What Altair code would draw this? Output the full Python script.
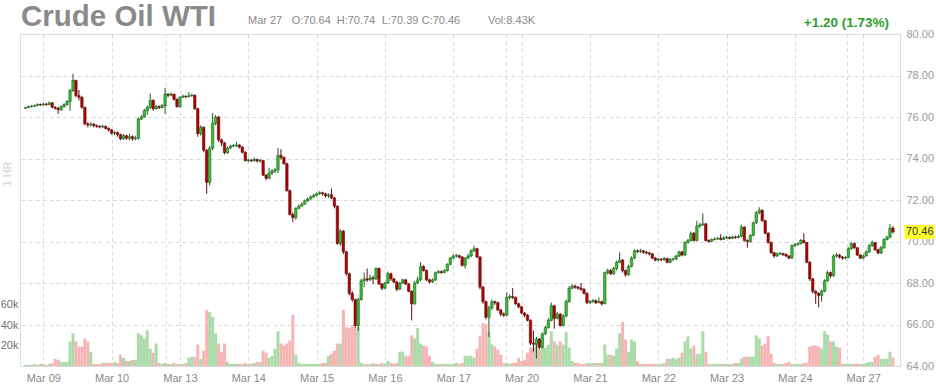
import altair as alt
import pandas as pd

# ---------------- data ----------------
day_labels = ["Mar 09", "Mar 10", "Mar 13", "Mar 14", "Mar 15", "Mar 16", "Mar 17",
              "Mar 20", "Mar 21", "Mar 22", "Mar 23", "Mar 24", "Mar 27"]
bars_per_day = 23
first_index = -6
week_breaks = [41.4, 155.9, 270.7]
price_ticks = [64, 66, 68, 70, 72, 74, 76, 78, 80]
volume_ticks = [20000, 40000, 60000]
first_open = 76.42

close_pre = [76.45, 76.50, 76.52, 76.55, 76.60, 76.58]
high_pre = [76.50, 76.55, 76.58, 76.60, 76.66, 76.65]
low_pre = [76.40, 76.43, 76.47, 76.49, 76.52, 76.53]
vol_pre = [1, 1, 1, 2, 1, 2]

close_0309 = [76.62, 76.60, 76.68, 76.47, 76.42, 76.35, 76.50, 76.60, 76.75, 77.28, 77.76, 77.03,
              76.95, 76.47, 75.67, 75.62, 75.66, 75.58, 75.55, 75.52, 75.55, 75.45, 75.38]
high_0309 = [76.70, 76.68, 76.74, 76.72, 76.52, 76.48, 76.56, 76.66, 76.82, 77.35, 78.08, 77.80,
             77.30, 77.00, 76.50, 75.75, 75.75, 75.70, 75.64, 75.60, 75.62, 75.58, 75.50]
low_0309 = [76.55, 76.54, 76.57, 76.42, 76.35, 76.15, 76.30, 76.45, 76.55, 76.30, 77.20, 76.95,
            76.80, 76.40, 75.60, 75.50, 75.55, 75.50, 75.48, 75.45, 75.47, 75.40, 75.30]
vol_0309 = [2, 1, 2, 3, 7, 6, 4, 4, 4, 24, 32, 24, 19, 19, 27, 24, 14, 2, 2, 2, 3, 3, 3]

close_0310 = [75.22, 75.25, 75.15, 74.95, 75.10, 74.98, 75.05, 74.95, 74.98, 75.90, 76.00, 76.30,
              76.45, 76.80, 76.40, 76.50, 76.45, 76.55, 77.10, 77.05, 77.10, 76.85, 76.50]
high_0310 = [75.42, 75.32, 75.30, 75.20, 75.18, 75.15, 75.20, 75.12, 75.10, 75.98, 76.10, 76.40,
             76.55, 77.13, 76.85, 76.58, 76.56, 76.62, 77.40, 77.15, 77.18, 77.12, 76.90]
low_0310 = [75.15, 75.12, 75.05, 74.88, 74.90, 74.90, 74.88, 74.85, 74.88, 74.90, 75.85, 75.95,
            76.10, 76.40, 76.30, 76.35, 76.38, 76.42, 76.15, 76.95, 77.00, 76.80, 76.45]
vol_0310 = [3, 4, 3, 11, 8, 5, 5, 6, 6, 32, 30, 27, 35, 17, 13, 22, 3, 2, 3, 2, 2, 3, 2]

close_0313 = [76.95, 77.00, 76.98, 77.02, 77.05, 76.40, 75.20, 75.50, 74.40, 72.85, 74.50, 75.70,
              76.00, 74.90, 74.75, 74.28, 74.50, 74.60, 74.62, 74.65, 74.55, 74.30, 73.90]
high_0313 = [77.00, 77.08, 77.05, 77.20, 77.12, 77.08, 76.45, 75.60, 75.55, 74.45, 74.60, 76.20,
             76.10, 76.05, 74.95, 74.80, 74.58, 74.66, 74.70, 74.80, 74.68, 74.60, 74.35]
low_0313 = [76.45, 76.92, 76.90, 76.95, 76.98, 76.35, 75.05, 75.10, 74.30, 72.30, 72.70, 74.40,
            75.60, 74.80, 74.60, 74.20, 74.22, 74.45, 74.55, 74.55, 74.48, 74.25, 73.85]
vol_0313 = [2, 2, 3, 8, 9, 9, 21, 7, 15, 55, 53, 48, 32, 22, 14, 22, 4, 2, 2, 2, 2, 2, 3]

close_0314 = [73.92, 73.90, 73.95, 73.88, 73.90, 73.20, 73.05, 73.30, 73.40, 73.45, 74.15, 74.05,
              73.75, 72.45, 71.30, 71.15, 71.60, 71.70, 71.80, 71.95, 72.05, 72.15, 72.22]
high_0314 = [74.00, 73.98, 74.05, 74.00, 73.98, 73.92, 73.25, 73.55, 73.50, 73.55, 74.50, 74.45,
             74.10, 73.80, 72.50, 71.40, 71.65, 71.78, 71.88, 72.02, 72.12, 72.22, 72.30]
low_0314 = [73.82, 73.82, 73.85, 73.80, 73.80, 73.15, 72.95, 73.00, 73.20, 73.30, 73.30, 73.95,
            73.70, 72.40, 71.25, 70.95, 71.05, 71.55, 71.68, 71.78, 71.92, 72.02, 72.10]
vol_0314 = [2, 2, 3, 4, 4, 15, 13, 8, 10, 17, 34, 22, 20, 22, 25, 50, 11, 3, 2, 2, 2, 2, 2]

close_0315 = [72.30, 72.35, 72.30, 72.20, 72.25, 72.10, 71.70, 69.90, 70.50, 69.50, 68.45, 67.50,
              67.20, 65.95, 67.20, 68.10, 68.20, 68.15, 68.25, 68.20, 68.70, 67.95, 67.75]
high_0315 = [72.36, 72.42, 72.40, 72.35, 72.32, 72.55, 72.15, 71.75, 70.60, 70.55, 69.55, 68.50,
             67.60, 67.25, 67.30, 68.20, 68.50, 68.70, 68.40, 68.35, 68.75, 68.75, 68.00]
low_0315 = [72.18, 72.25, 72.22, 72.12, 72.10, 72.05, 71.60, 69.85, 69.80, 69.40, 68.35, 67.40,
            67.10, 65.85, 65.70, 67.15, 67.80, 68.05, 68.10, 67.95, 68.15, 67.90, 67.65]
vol_0315 = [2, 2, 3, 3, 10, 12, 15, 22, 22, 55, 38, 37, 40, 38, 38, 3, 2, 2, 2, 3, 2, 2, 3]

close_0316 = [68.00, 68.45, 68.20, 68.05, 67.70, 68.00, 68.15, 67.95, 67.60, 67.00, 68.00, 68.15,
              68.80, 68.60, 68.15, 68.05, 68.15, 68.50, 68.55, 68.50, 68.60, 68.90, 69.20]
high_0316 = [68.05, 68.55, 68.50, 68.25, 68.10, 68.05, 68.20, 68.20, 68.00, 67.65, 68.10, 68.30,
             69.00, 68.85, 68.65, 68.20, 68.22, 68.55, 68.62, 68.60, 68.66, 68.95, 69.25]
low_0316 = [67.70, 67.95, 68.10, 68.00, 67.60, 67.65, 67.95, 67.90, 67.55, 66.20, 66.95, 67.95,
            68.10, 68.55, 68.10, 67.98, 68.00, 68.10, 68.45, 68.45, 68.48, 68.55, 68.85]
vol_0316 = [2, 5, 3, 2, 3, 14, 14, 10, 10, 30, 27, 37, 22, 20, 19, 10, 4, 2, 2, 2, 2, 2, 2]

close_0317 = [69.30, 69.32, 69.25, 68.85, 69.20, 69.30, 69.55, 69.65, 69.25, 67.80, 67.10, 66.35,
              66.80, 67.10, 67.05, 66.70, 66.50, 66.45, 67.30, 67.35, 67.30, 67.00, 66.85]
high_0317 = [69.38, 69.40, 69.36, 69.30, 69.25, 69.40, 69.62, 69.80, 69.70, 69.30, 67.85, 67.15,
             66.90, 67.20, 67.15, 67.10, 66.75, 66.58, 67.55, 67.45, 67.75, 67.35, 67.05]
low_0317 = [69.15, 69.22, 69.18, 68.80, 68.70, 69.15, 69.25, 69.50, 69.20, 67.70, 67.00, 66.25,
            65.40, 66.70, 66.95, 66.65, 66.40, 66.35, 66.40, 67.20, 67.22, 66.95, 66.78]
vol_0317 = [2, 3, 2, 3, 10, 10, 10, 8, 17, 29, 42, 41, 33, 21, 19, 16, 11, 3, 3, 2, 3, 3, 8]

close_0320 = [66.55, 66.45, 66.20, 65.10, 65.05, 65.30, 64.90, 65.55, 65.85, 66.20, 66.90, 66.30,
              66.50, 65.95, 66.40, 67.10, 67.75, 67.85, 67.80, 67.75, 67.70, 67.50, 67.05]
high_0320 = [66.90, 66.60, 66.50, 66.25, 65.70, 65.40, 65.35, 65.62, 65.95, 66.30, 67.05, 66.95,
             66.60, 66.55, 66.50, 67.20, 67.85, 67.95, 67.92, 67.85, 68.00, 67.75, 67.55]
low_0320 = [66.50, 66.35, 66.15, 65.00, 64.70, 64.36, 64.80, 64.85, 65.50, 65.80, 66.15, 65.80,
            66.25, 65.90, 65.90, 66.35, 67.05, 67.70, 67.72, 67.68, 67.62, 67.45, 66.98]
vol_0320 = [5, 6, 13, 18, 18, 23, 16, 18, 18, 21, 34, 24, 21, 24, 21, 33, 18, 5, 3, 3, 2, 2, 3]

close_0321 = [67.10, 67.15, 67.05, 67.10, 67.00, 68.50, 68.60, 68.45, 68.70, 69.00, 69.10, 68.60,
              68.40, 68.80, 69.20, 69.55, 69.52, 69.55, 69.48, 69.45, 69.40, 69.20, 69.10]
high_0321 = [67.18, 67.22, 67.20, 67.30, 67.15, 68.55, 68.70, 68.68, 68.78, 69.08, 69.48, 69.15,
             68.65, 68.88, 69.28, 69.62, 69.62, 69.65, 69.58, 69.55, 69.50, 69.45, 69.25]
low_0321 = [67.00, 67.05, 66.98, 67.02, 66.92, 66.98, 68.40, 68.38, 68.40, 68.60, 68.95, 68.50,
            68.30, 68.35, 68.75, 69.15, 69.45, 69.45, 69.40, 69.38, 69.32, 69.15, 69.05]
vol_0321 = [3, 3, 3, 3, 3, 21, 11, 11, 10, 17, 32, 43, 26, 14, 26, 24, 5, 2, 2, 2, 2, 2, 2]

close_0322 = [69.15, 69.12, 69.18, 69.00, 69.15, 69.15, 69.30, 69.50, 69.35, 69.95, 70.05, 70.40,
              70.05, 70.75, 70.80, 70.85, 70.05, 70.00, 70.10, 70.12, 70.15, 70.10, 70.18]
high_0322 = [69.22, 69.20, 69.25, 69.22, 69.20, 69.22, 69.36, 69.56, 69.55, 70.02, 70.12, 70.48,
             70.45, 71.00, 70.90, 71.35, 70.90, 70.10, 70.15, 70.20, 70.22, 70.35, 70.25]
low_0322 = [69.05, 69.05, 69.08, 68.95, 68.95, 69.05, 69.10, 69.25, 69.28, 69.30, 69.90, 70.00,
            70.00, 70.00, 70.65, 70.75, 70.00, 69.95, 69.98, 70.05, 70.08, 70.05, 70.08]
vol_0322 = [2, 2, 3, 7, 7, 8, 7, 8, 13, 24, 29, 17, 20, 12, 12, 34, 14, 2, 2, 2, 2, 2, 2]

close_0323 = [70.20, 70.15, 70.22, 70.20, 70.25, 70.70, 70.05, 70.00, 70.30, 70.90, 71.40, 71.50,
              71.00, 70.40, 69.95, 69.46, 69.30, 69.40, 69.42, 69.38, 69.30, 69.20, 69.80]
high_0323 = [70.28, 70.25, 70.28, 70.28, 70.32, 70.80, 70.72, 70.10, 70.35, 70.95, 71.45, 71.65,
             71.55, 71.05, 70.45, 70.00, 69.50, 69.48, 69.50, 69.45, 69.42, 69.35, 69.85]
low_0323 = [70.12, 70.10, 70.12, 70.14, 70.15, 70.20, 70.00, 69.70, 69.95, 70.25, 70.85, 71.30,
            70.95, 70.35, 69.90, 69.40, 69.22, 69.25, 69.35, 69.30, 69.25, 69.15, 69.15]
vol_0323 = [2, 2, 2, 3, 3, 7, 9, 9, 9, 9, 30, 27, 20, 22, 29, 12, 3, 2, 2, 2, 3, 4, 2]

close_0324 = [69.85, 69.90, 70.05, 69.95, 69.00, 68.20, 67.60, 67.50, 67.40, 67.60, 68.10, 68.50,
              68.35, 69.30, 69.35, 69.25, 69.20, 69.22, 69.65, 69.90, 69.70, 69.35, 69.20]
high_0324 = [69.92, 69.96, 70.12, 70.40, 69.98, 69.05, 68.25, 67.65, 67.55, 67.68, 68.18, 68.60,
             68.55, 69.38, 69.45, 69.40, 69.30, 69.30, 69.72, 69.96, 69.95, 69.72, 69.38]
low_0324 = [69.75, 69.80, 69.85, 69.90, 68.95, 68.10, 67.50, 67.00, 66.83, 67.10, 67.55, 68.05,
            68.25, 68.30, 69.22, 69.18, 69.12, 69.15, 69.20, 69.60, 69.65, 69.30, 69.15]
vol_0324 = [2, 2, 2, 3, 3, 19, 20, 20, 19, 17, 34, 31, 24, 24, 19, 18, 2, 2, 2, 2, 2, 2, 2]

close_0327 = [69.30, 69.50, 69.80, 69.95, 69.60, 69.45, 69.70, 70.10, 70.20, 70.64, 70.46]
high_0327 = [69.38, 69.58, 69.88, 70.05, 69.98, 69.65, 69.78, 70.15, 70.28, 70.85, 70.74]
low_0327 = [69.15, 69.28, 69.45, 69.75, 69.55, 69.38, 69.40, 69.65, 70.05, 70.15, 70.39]
vol_0327 = [2, 3, 4, 4, 9, 11, 7, 7, 7, 14, 8.43]

closes = (close_pre + close_0309 + close_0310 + close_0313 + close_0314 + close_0315 + close_0316
          + close_0317 + close_0320 + close_0321 + close_0322 + close_0323 + close_0324 + close_0327)
highs = (high_pre + high_0309 + high_0310 + high_0313 + high_0314 + high_0315 + high_0316
         + high_0317 + high_0320 + high_0321 + high_0322 + high_0323 + high_0324 + high_0327)
lows = (low_pre + low_0309 + low_0310 + low_0313 + low_0314 + low_0315 + low_0316
        + low_0317 + low_0320 + low_0321 + low_0322 + low_0323 + low_0324 + low_0327)
vols_k = (vol_pre + vol_0309 + vol_0310 + vol_0313 + vol_0314 + vol_0315 + vol_0316
          + vol_0317 + vol_0320 + vol_0321 + vol_0322 + vol_0323 + vol_0324 + vol_0327)

n = len(closes)
df = pd.DataFrame({
    "i": list(range(first_index, first_index + n)),
    "open": [first_open] + closes[:-1],
    "high": highs,
    "low": lows,
    "close": closes,
    "vol": [v * 1000 for v in vols_k],
})
last = df.iloc[-1]

# ---------------- styling ----------------
FONT = "Liberation Sans"
GRID = "#dadada"
UP_FILL, UP_LINE = "#35c235", "#1d5e1d"
DN_FILL, DN_LINE = "#b30000", "#5e0d0d"
VOL_UP, VOL_DN = "#a9dca9", "#f6b5b5"
is_up = "datum.close >= datum.open"

x_scale = alt.Scale(domain=[-6.156, 286.69], nice=False, zero=False)
price_scale = alt.Scale(domain=[64, 80], nice=False, zero=False)
vol_scale = alt.Scale(domain=[0, 325000], nice=False)

label_expr = "[" + ",".join("'%s'" % d for d in day_labels) + "][round(datum.value / %d)]" % bars_per_day
x_axis = alt.Axis(values=[k * bars_per_day for k in range(len(day_labels))], labelExpr=label_expr,
                  grid=True, gridColor=GRID, gridDash=[4, 3], ticks=False, domain=False,
                  labelColor="#8a8a8a", labelFontSize=11, labelPadding=6, labelFlush=False,
                  labelFont=FONT, title=None)
price_axis = alt.Axis(orient="right", values=price_ticks, format=".2f", grid=True,
                      gridColor=GRID, gridDash=[4, 3], ticks=False, domain=False,
                      labelColor="#9a9a9a", labelFontSize=11, labelPadding=6,
                      labelFont=FONT, title=None)
vol_axis = alt.Axis(orient="left", values=volume_ticks, format="~s", grid=False, ticks=False,
                    domain=False, labelColor="#707070", labelFontSize=11, labelPadding=2,
                    labelFont=FONT, title=None)

base = alt.Chart(df)

week_rules = alt.Chart(pd.DataFrame({"w": week_breaks})).mark_rule(
    color=GRID, strokeDash=[4, 3], strokeWidth=1
).encode(x=alt.X("w:Q", scale=x_scale, axis=x_axis))

volume = base.mark_bar(size=3.0).encode(
    x=alt.X("i:Q", scale=x_scale, title=None),
    y=alt.Y("vol:Q", scale=vol_scale, axis=vol_axis),
    color=alt.condition(is_up, alt.value(VOL_UP), alt.value(VOL_DN)),
)

wicks = base.mark_rule(strokeWidth=1).encode(
    x=alt.X("i:Q", scale=x_scale, title=None),
    y=alt.Y("low:Q", scale=price_scale, axis=price_axis),
    y2="high:Q",
    color=alt.condition(is_up, alt.value(UP_LINE), alt.value(DN_LINE)),
)

bodies = base.mark_bar(size=2.4, strokeWidth=0.6).encode(
    x=alt.X("i:Q", scale=x_scale, title=None),
    y=alt.Y("open:Q", scale=price_scale, title=None),
    y2="close:Q",
    fill=alt.condition(is_up, alt.value(UP_FILL), alt.value(DN_FILL)),
    stroke=alt.condition(is_up, alt.value(UP_LINE), alt.value(DN_LINE)),
)

last_df = df.tail(1)
tag_box = alt.Chart(last_df).mark_point(
    shape="M-1.8,-0.84L1.8,-0.84L1.8,0.84L-1.8,0.84Z", size=278, filled=True,
    color="#ffff2e", opacity=1, strokeWidth=0
).encode(x=alt.value(899.5), y=alt.Y("close:Q", scale=price_scale, title=None))
tag_text = alt.Chart(last_df).mark_text(
    align="left", baseline="middle", fontSize=11, color="#333333", font=FONT
).encode(x=alt.value(886), y=alt.Y("close:Q", scale=price_scale, title=None),
         text=alt.Text("close:Q", format=".2f"))

price = alt.layer(wicks, bodies, tag_box, tag_text)


def label(text, x, y, size=11, color="#8a8a8a", weight="normal", align="left", angle=0):
    return alt.Chart(alt.Data(values=[{}])).mark_text(
        text=text, fontSize=size, color=color, fontWeight=weight, align=align,
        baseline="alphabetic" if angle == 0 else "middle", angle=angle, font=FONT
    ).encode(x=alt.value(x), y=alt.value(y))


header = [
    label("Crude Oil WTI", 1, -8.5, size=29.5, weight="bold", color="#8a8a8a"),
    label("Mar 27", 228, -10.5),
    label("O:%.2f" % last["open"], 271.7, -10.5),
    label("H:%.2f" % last["high"], 316.7, -10.5),
    label("L:%.2f" % last["low"], 361.7, -10.5),
    label("C:%.2f" % last["close"], 401.7, -10.5),
    label("Vol:%.2fK" % (last["vol"] / 1000), 468, -10.5),
    label("+1.20 (1.73%)", 869, -7.5, size=13.5, weight="bold", color="#2f9e2f", align="right"),
    label("1 HR", -12, 140, size=11, weight="bold", color="#dddddd", align="center", angle=270),
]

chart = alt.layer(week_rules, volume, price, *header).resolve_scale(
    y="independent"
).properties(
    width=880, height=332,
    padding={"left": 20, "top": 34, "right": 36, "bottom": 19},
    autosize=alt.AutoSizeParams(type="none"),
).configure_view(strokeWidth=0).configure(font=FONT)

chart.save("out.html", embed_options={"renderer": "svg", "actions": False})
